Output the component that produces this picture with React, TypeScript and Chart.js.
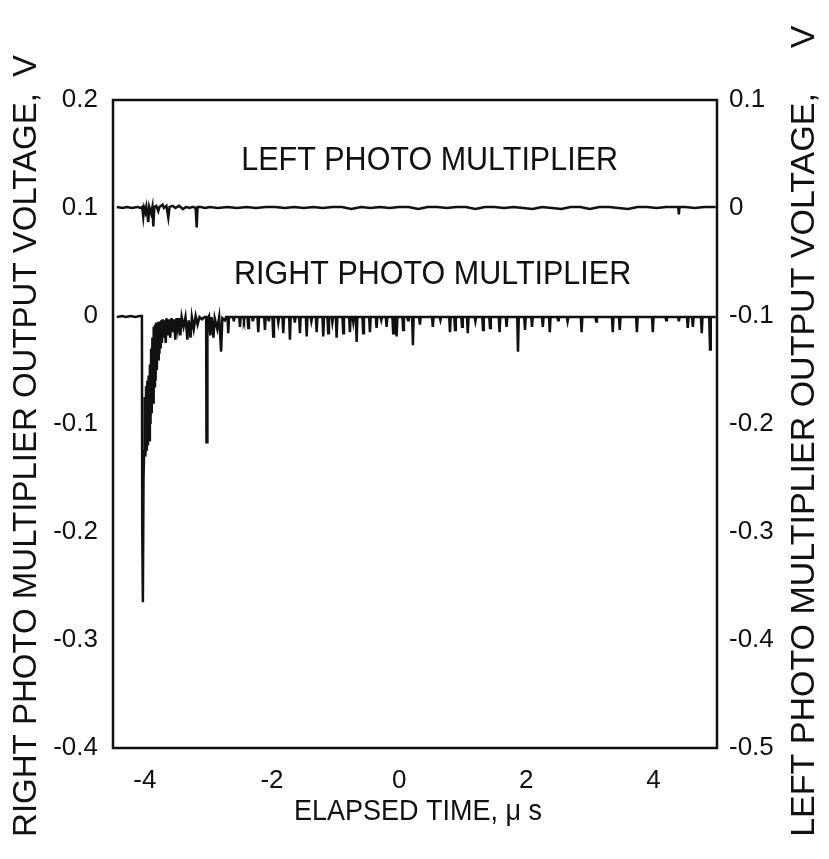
import React, { useEffect, useRef } from "react";
import { Chart, registerables } from "chart.js";

Chart.register(...registerables);

// ---- Data ----
const xTicks = [-4, -2, 0, 2, 4];
const yLeftTicks = [0.2, 0.1, 0, -0.1, -0.2, -0.3, -0.4];
const yRightTicks = [0.1, 0, -0.1, -0.2, -0.3, -0.4, -0.5];

// Right photomultiplier (left axis): early burst, explicit samples
const rightEarlyT = [
  -4.44, -4.35, -4.3, -4.22, -4.15, -4.08, -4.045, -4.04, -4.03, -4.02, -4.01, -4.0,
  -3.99, -3.98, -3.97, -3.96, -3.95, -3.94, -3.93, -3.92, -3.91, -3.9, -3.89, -3.88,
  -3.87, -3.86, -3.85, -3.84, -3.83, -3.82, -3.81, -3.8, -3.79, -3.78, -3.77, -3.76,
  -3.75, -3.74, -3.73, -3.72, -3.7, -3.69, -3.67, -3.66, -3.64, -3.62, -3.6, -3.58,
  -3.56, -3.54, -3.52, -3.5, -3.48, -3.46, -3.44, -3.42, -3.39, -3.36, -3.33, -3.31,
  -3.28, -3.26, -3.23, -3.2, -3.17, -3.14, -3.1, -3.06, -3.035, -3.03, -3.02, -3.015,
  -2.99, -2.97, -2.95, -2.92, -2.9, -2.86, -2.83, -2.8, -2.78, -2.74, -2.72,
];
const rightEarlyV = [
  -0.001, 0.0, -0.001, 0.0, -0.001, 0.0, 0.0, -0.2, -0.265, -0.15, -0.125, -0.075,
  -0.13, -0.065, -0.125, -0.06, -0.12, -0.055, -0.115, -0.045, -0.1, -0.03, -0.09, -0.02,
  -0.08, -0.01, -0.065, -0.008, -0.06, -0.006, -0.05, -0.008, -0.04, -0.005, -0.035, -0.006,
  -0.03, -0.004, -0.025, -0.003, -0.02, -0.004, -0.025, -0.002, -0.018, -0.003, -0.02, -0.002,
  -0.015, -0.003, -0.022, -0.002, -0.012, -0.002, -0.018, -0.001, -0.01, -0.001, -0.022, -0.004,
  -0.02, -0.001, -0.012, 0.0, -0.008, -0.001, -0.003, -0.001, -0.001, -0.117, -0.117, -0.003,
  0.0, -0.018, -0.001, -0.02, -0.002, -0.012, -0.001, -0.033, -0.002, -0.004, -0.001,
];
// Right photomultiplier: later narrow dips (time, depth)
const rightDipT = [
  -2.687, -2.6, -2.503, -2.44, -2.373, -2.3, -2.215, -2.11, -2.05, -1.98, -1.9, -1.822,
  -1.717, -1.64, -1.56, -1.454, -1.38, -1.297, -1.193, -1.115, -1.05, -0.983, -0.879, -0.774,
  -0.72, -0.668, -0.565, -0.459, -0.354, -0.28, -0.197, -0.093, -0.039, 0.064, 0.14, 0.217,
  0.327, 0.53, 0.65, 0.8, 0.88, 0.99, 1.08, 1.2, 1.32, 1.43, 1.58, 1.69,
  1.87, 1.98, 2.09, 2.26, 2.37, 2.5, 2.65, 2.87, 3.1, 3.36, 3.47, 3.74,
  3.99, 4.2, 4.4, 4.54, 4.62, 4.76, 4.89,
];
const rightDipV = [
  -0.016, -0.005, -0.01, -0.004, -0.011, -0.005, -0.015, -0.013, -0.005, -0.019, -0.006, -0.016,
  -0.022, -0.006, -0.016, -0.019, -0.005, -0.015, -0.019, -0.016, -0.006, -0.02, -0.016, -0.015,
  -0.006, -0.024, -0.016, -0.015, -0.011, -0.004, -0.01, -0.016, -0.019, -0.013, -0.004, -0.027,
  -0.008, -0.01, -0.004, -0.015, -0.013, -0.01, -0.016, -0.005, -0.013, -0.011, -0.015, -0.01,
  -0.033, -0.013, -0.01, -0.01, -0.015, -0.004, -0.005, -0.015, -0.005, -0.015, -0.013, -0.015,
  -0.015, -0.004, -0.005, -0.011, -0.01, -0.016, -0.031,
];
const rightBase = -0.001;
const rightEndT = 4.98;

// Left photomultiplier (right axis)
const leftT = [
  -4.44, -4.35, -4.28, -4.2, -4.12, -4.06, -4.04, -4.024, -4.01, -3.99, -3.975, -3.945,
  -3.93, -3.9, -3.88, -3.866, -3.85, -3.82, -3.788, -3.77, -3.72, -3.7, -3.66, -3.63,
  -3.61, -3.56, -3.52, -3.46, -3.4, -3.35, -3.3, -3.24, -3.2, -3.184, -3.17, -3.12,
  -3.05, -2.98, -2.85, -2.7, -2.55, -2.4, -2.25, -2.1, -1.95, -1.8, -1.65, -1.5,
  -1.35, -1.2, -1.05, -0.9, -0.75, -0.6, -0.45, -0.3, -0.15, 0.0, 0.15, 0.3,
  0.45, 0.6, 0.75, 0.9, 1.05, 1.2, 1.35, 1.5, 1.65, 1.8, 1.95, 2.1,
  2.25, 2.4, 2.55, 2.7, 2.85, 3.0, 3.15, 3.3, 3.45, 3.6, 3.75, 3.9,
  4.05, 4.2, 4.35, 4.39, 4.4, 4.41, 4.5, 4.65, 4.8, 4.98,
];
const leftV = [
  0.001, 0.0, 0.001, 0.0, 0.001, 0.0, 0.001, -0.008, 0.0, -0.004, 0.001, -0.013,
  0.001, -0.005, 0.001, -0.017, 0.001, 0.002, -0.003, 0.001, 0.003, 0.0, 0.002, -0.009,
  0.001, 0.002, 0.0, 0.002, -0.001, 0.001, 0.0, 0.001, 0.0, -0.018, 0.001, 0.001,
  0.0, 0.001, 0.0, 0.001, 0.0, 0.001, 0.0, 0.001, 0.001, 0.0, 0.001, 0.0,
  0.001, 0.0, 0.001, 0.001, -0.001, 0.001, 0.0, 0.001, 0.0, 0.001, 0.001, -0.001,
  0.001, 0.001, 0.0, 0.001, 0.001, -0.001, 0.001, 0.001, 0.0, 0.001, 0.0, -0.001,
  0.001, 0.0, -0.001, 0.001, 0.001, -0.001, 0.001, 0.001, 0.0, -0.001, 0.001, 0.001,
  0.0, 0.001, 0.001, 0.001, -0.006, 0.001, 0.001, 0.0, 0.001, 0.001,
];

const FONT = "'Liberation Sans', Arial, Helvetica, sans-serif";

function buildRight() {
  const pts: { x: number; y: number }[] = [];
  rightEarlyT.forEach((t, i) => pts.push({ x: t, y: rightEarlyV[i] }));
  rightDipT.forEach((t, i) => {
    pts.push({ x: t - 0.012, y: rightBase });
    pts.push({ x: t, y: rightDipV[i] });
    pts.push({ x: t + 0.012, y: rightBase });
  });
  pts.push({ x: rightEndT, y: rightBase });
  return pts;
}

function buildLeft() {
  return leftT.map((t, i) => ({ x: t, y: leftV[i] }));
}

function rotText(ctx: any, text: string, x: number, y: number) {
  ctx.save();
  ctx.translate(x, y);
  ctx.rotate(-Math.PI / 2);
  ctx.fillText(text, 0, 0);
  ctx.restore();
}

const textPlugin = {
  id: "textPlugin",
  afterDraw(chart: any) {
    const { ctx, chartArea, scales } = chart;
    ctx.save();
    // frame
    ctx.strokeStyle = "#111";
    ctx.lineWidth = 2.5;
    ctx.strokeRect(chartArea.left, chartArea.top, chartArea.right - chartArea.left, chartArea.bottom - chartArea.top);

    ctx.fillStyle = "#111";
    ctx.textAlign = "center";
    ctx.textBaseline = "middle";

    const drawTall = (t: string, x: number, y: number) => {
      ctx.save();
      ctx.translate(x, y);
      ctx.scale(1, 1.1);
      ctx.fillText(t, 0, 0);
      ctx.restore();
    };

    // in-plot labels
    ctx.font = `30.5px ${FONT}`;
    const lx = scales.x.getPixelForValue(0.48);
    drawTall("LEFT PHOTO MULTIPLIER", lx, scales.y.getPixelForValue(0.144));
    drawTall("RIGHT PHOTO MULTIPLIER", lx + 3, scales.y.getPixelForValue(0.038));

    // x title
    ctx.font = `27px ${FONT}`;
    drawTall("ELAPSED TIME, \u03bc s", (chartArea.left + chartArea.right) / 2 + 3, 812);

    // left y title
    ctx.font = `33px ${FONT}`;
    rotText(ctx, "RIGHT PHOTO MULTIPLIER OUTPUT VOLTAGE,", 27, 465);
    rotText(ctx, "V", 27, 66);

    // right y title
    ctx.font = `34px ${FONT}`;
    rotText(ctx, "LEFT PHOTO MULTIPLIER OUTPUT VOLTAGE,", 805, 465);
    rotText(ctx, "V", 805, 37);

    ctx.restore();
  },
};

const fmt = (v: any) => String(Math.round(Number(v) * 10) / 10);

export default function App() {
  const ref = useRef<HTMLCanvasElement | null>(null);
  useEffect(() => {
    if (!ref.current) return;
    const chart = new Chart(ref.current, {
      type: "line",
      data: {
        datasets: [
          {
            label: "Right PM",
            data: buildRight(),
            xAxisID: "x",
            yAxisID: "y",
            borderColor: "#111",
            borderWidth: 2.5,
            pointRadius: 0,
            tension: 0,
            fill: false,
          },
          {
            label: "Left PM",
            data: buildLeft(),
            xAxisID: "x",
            yAxisID: "y2",
            borderColor: "#111",
            borderWidth: 2.5,
            pointRadius: 0,
            tension: 0,
            fill: false,
          },
        ],
      },
      options: {
        responsive: false,
        animation: false,
        devicePixelRatio: 1,
        layout: { padding: { top: 100, left: 0, right: 0, bottom: 0 } },
        plugins: { legend: { display: false }, tooltip: { enabled: false } },
        scales: {
          x: {
            type: "linear",
            min: -4.5,
            max: 5,
            grid: { display: false, drawTicks: false },
            border: { display: false },
            afterBuildTicks: (s: any) => { s.ticks = xTicks.map((v) => ({ value: v })); },
            afterFit: (s: any) => { s.height = 111; },
            ticks: { padding: 17, color: "#111", font: { family: FONT, size: 26 }, callback: (v: any) => fmt(v), maxRotation: 0 },
          },
          y: {
            type: "linear",
            position: "left",
            min: -0.4,
            max: 0.2,
            grid: { display: false, drawTicks: false },
            border: { display: false },
            afterBuildTicks: (s: any) => { s.ticks = yLeftTicks.map((v) => ({ value: v })); },
            afterFit: (s: any) => { s.width = 113; },
            ticks: { padding: 15, color: "#111", font: { family: FONT, size: 26 }, callback: (v: any) => fmt(v) },
          },
          y2: {
            type: "linear",
            position: "right",
            min: -0.5,
            max: 0.1,
            grid: { display: false, drawTicks: false },
            border: { display: false },
            afterBuildTicks: (s: any) => { s.ticks = yRightTicks.map((v) => ({ value: v })); },
            afterFit: (s: any) => { s.width = 112; },
            ticks: { padding: 12, color: "#111", font: { family: FONT, size: 26 }, callback: (v: any) => fmt(v) },
          },
        },
      },
      plugins: [textPlugin],
    } as any);
    return () => chart.destroy();
  }, []);
  return (
    <div style={{ position: "absolute", left: 0, top: 0, width: 829, height: 859, background: "#fff" }}>
      <canvas ref={ref} width={829} height={859} style={{ display: "block", width: 829, height: 859 }} />
    </div>
  );
}
